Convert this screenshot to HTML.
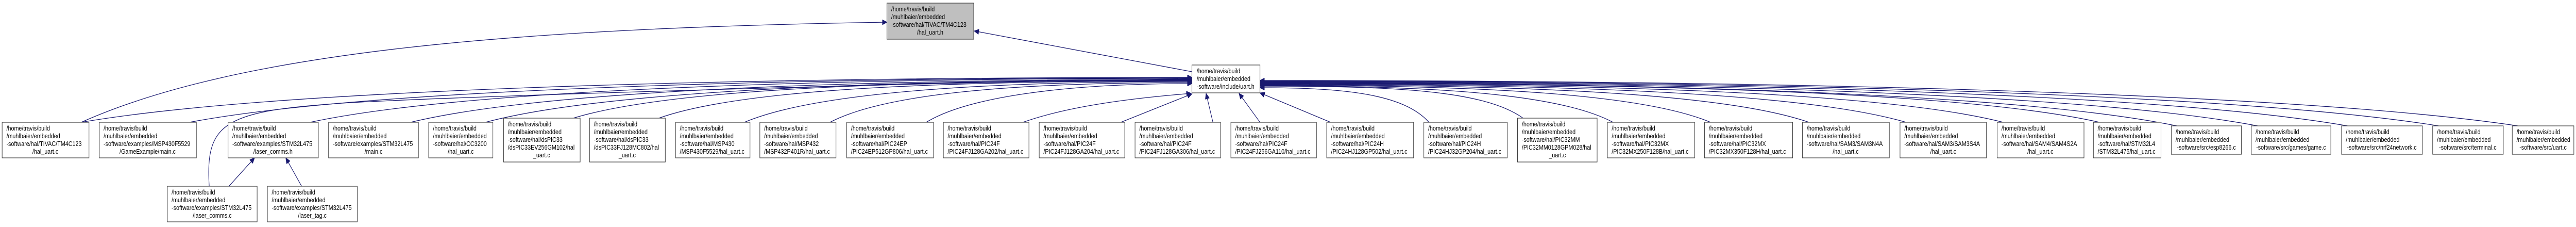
<!DOCTYPE html>
<html><head><meta charset="utf-8"><style>
html,body{margin:0;padding:0;background:#fff;width:100%;height:100%;overflow:hidden;}
svg{display:block;position:absolute;left:0;top:0;width:100vw;height:100vh;}
text{font-family:"Liberation Sans",Arial,sans-serif;font-size:13px;fill:#000;}
.b{fill:#fff;stroke:#3a3a3a;stroke-width:1.2;}
.e{fill:none;stroke:#191970;stroke-width:1.3;}
</style></head><body>
<svg viewBox="0 0 6021 440" preserveAspectRatio="none" overflow="hidden" xmlns="http://www.w3.org/2000/svg">
<defs>
<marker id="a" markerUnits="userSpaceOnUse" markerWidth="12" markerHeight="10" refX="11" refY="5" orient="auto">
<path d="M0,0 L11,5 L0,10 Z" fill="#191970" stroke="#191970"/>
</marker>
</defs>

<g>
<path class="e" marker-end="url(#a)" d="M190,237 C560,100 1200,55 2073,43"/>
<path class="e" marker-end="url(#a)" d="M2786,139 L2277,60"/>
<path class="e" marker-end="url(#a)" d="M190,237 C579,182 1488,150 2786,150"/>
<path class="e" marker-end="url(#a)" d="M443,237 C794,182 1614,151 2786,151"/>
<path class="e" marker-end="url(#a)" d="M725,237 C1034,182 1755,152 2786,152"/>
<path class="e" marker-end="url(#a)" d="M489,361 C480,240 520,215 800,200 S2400,155 2786,153"/>
<path class="e" marker-end="url(#a)" d="M960,237 C1234,182 1873,154 2786,154"/>
<path class="e" marker-end="url(#a)" d="M1135,237 C1383,182 1960,155 2786,155"/>
<path class="e" marker-end="url(#a)" d="M1340,229 C1557,174 2063,156 2786,156"/>
<path class="e" marker-end="url(#a)" d="M1540,229 C1727,174 2163,157 2786,157"/>
<path class="e" marker-end="url(#a)" d="M1740,237 C1897,182 2263,158 2786,158"/>
<path class="e" marker-end="url(#a)" d="M1940,237 C2067,182 2363,160 2786,160"/>
<path class="e" marker-end="url(#a)" d="M2165,237 C2258,190 2475,162 2786,162"/>
<path class="e" marker-end="url(#a)" d="M2391,237 C2500,205 2650,190 2784,181"/>
<path class="e" marker-end="url(#a)" d="M2620,237 L2786,182"/>
<path class="e" marker-end="url(#a)" d="M2835,237 L2819,181"/>
<path class="e" marker-end="url(#a)" d="M2945,237 L2896,181"/>
<path class="e" marker-end="url(#a)" d="M3110,237 L2945,180"/>
<path class="e" marker-end="url(#a)" d="M3340,237 C3281,182 3142,170 2945,170"/>
<path class="e" marker-end="url(#a)" d="M3560,229 C3468,174 3252,167 2945,167"/>
<path class="e" marker-end="url(#a)" d="M3770,237 C3646,182 3357,166 2945,166"/>
<path class="e" marker-end="url(#a)" d="M3998,237 C3840,182 3471,165 2945,165"/>
<path class="e" marker-end="url(#a)" d="M4228,237 C4036,182 3586,164 2945,164"/>
<path class="e" marker-end="url(#a)" d="M4455,237 C4228,182 3700,163 2945,163"/>
<path class="e" marker-end="url(#a)" d="M4682,237 C4421,182 3813,162 2945,162"/>
<path class="e" marker-end="url(#a)" d="M4907,237 C4613,182 3926,161 2945,161"/>
<path class="e" marker-end="url(#a)" d="M5088,244 C4767,189 4016,160 2945,160"/>
<path class="e" marker-end="url(#a)" d="M5277,244 C4927,189 4111,159 2945,159"/>
<path class="e" marker-end="url(#a)" d="M5487,244 C5106,189 4216,158 2945,158"/>
<path class="e" marker-end="url(#a)" d="M5700,244 C5287,189 4322,157 2945,157"/>
<path class="e" marker-end="url(#a)" d="M5885,244 C5444,189 4415,156 2945,156"/>
<path class="e" marker-end="url(#a)" d="M535,361 L595,306"/>
<path class="e" marker-end="url(#a)" d="M705,361 L668,306"/>
</g>

<rect x="2073" y="6" width="203" height="70" fill="#bfbfbf" stroke="#3a3a3a" stroke-width="1.2"/>
<text x="2083" y="22">/home/travis/build</text><text x="2083" y="37">/muhlbaier/embedded</text><text x="2083" y="52">-software/hal/TIVAC/TM4C123</text><text x="2174" y="67" text-anchor="middle">/hal_uart.h</text>

<rect class="b" x="2786" y="126" width="159" height="54"/>
<text x="2797" y="142">/home/travis/build</text><text x="2797" y="157">/muhlbaier/embedded</text><text x="2797" y="172">-software/include/uart.h</text>

<rect class="b" x="5" y="237" width="203" height="69"/>
<text x="15" y="253">/home/travis/build</text><text x="15" y="268">/muhlbaier/embedded</text><text x="15" y="283">-software/hal/TIVAC/TM4C123</text><text x="106" y="298" text-anchor="middle">/hal_uart.c</text>

<rect class="b" x="232" y="237" width="227" height="69"/>
<text x="242" y="253">/home/travis/build</text><text x="242" y="268">/muhlbaier/embedded</text><text x="242" y="283">-software/examples/MSP430F5529</text><text x="345" y="298" text-anchor="middle">/GameExample/main.c</text>

<rect class="b" x="533" y="237" width="211" height="69"/>
<text x="543" y="253">/home/travis/build</text><text x="543" y="268">/muhlbaier/embedded</text><text x="543" y="283">-software/examples/STM32L475</text><text x="638" y="298" text-anchor="middle">/laser_comms.h</text>

<rect class="b" x="768" y="237" width="210" height="69"/>
<text x="778" y="253">/home/travis/build</text><text x="778" y="268">/muhlbaier/embedded</text><text x="778" y="283">-software/examples/STM32L475</text><text x="873" y="298" text-anchor="middle">/main.c</text>

<rect class="b" x="1002" y="237" width="150" height="69"/>
<text x="1012" y="253">/home/travis/build</text><text x="1012" y="268">/muhlbaier/embedded</text><text x="1012" y="283">-software/hal/CC3200</text><text x="1077" y="298" text-anchor="middle">/hal_uart.c</text>

<rect class="b" x="1177" y="229" width="179" height="85"/>
<text x="1187" y="245">/home/travis/build</text><text x="1187" y="260">/muhlbaier/embedded</text><text x="1187" y="275">-software/hal/dsPIC33</text><text x="1187" y="290">/dsPIC33EV256GM102/hal</text><text x="1266" y="305" text-anchor="middle">_uart.c</text>

<rect class="b" x="1378" y="229" width="177" height="85"/>
<text x="1388" y="245">/home/travis/build</text><text x="1388" y="260">/muhlbaier/embedded</text><text x="1388" y="275">-software/hal/dsPIC33</text><text x="1388" y="290">/dsPIC33FJ128MC802/hal</text><text x="1466" y="305" text-anchor="middle">_uart.c</text>

<rect class="b" x="1579" y="237" width="174" height="69"/>
<text x="1589" y="253">/home/travis/build</text><text x="1589" y="268">/muhlbaier/embedded</text><text x="1589" y="283">-software/hal/MSP430</text><text x="1589" y="298">/MSP430F5529/hal_uart.c</text>

<rect class="b" x="1776" y="237" width="178" height="69"/>
<text x="1786" y="253">/home/travis/build</text><text x="1786" y="268">/muhlbaier/embedded</text><text x="1786" y="283">-software/hal/MSP432</text><text x="1786" y="298">/MSP432P401R/hal_uart.c</text>

<rect class="b" x="1979" y="237" width="203" height="69"/>
<text x="1989" y="253">/home/travis/build</text><text x="1989" y="268">/muhlbaier/embedded</text><text x="1989" y="283">-software/hal/PIC24EP</text><text x="1989" y="298">/PIC24EP512GP806/hal_uart.c</text>

<rect class="b" x="2205" y="237" width="200" height="69"/>
<text x="2215" y="253">/home/travis/build</text><text x="2215" y="268">/muhlbaier/embedded</text><text x="2215" y="283">-software/hal/PIC24F</text><text x="2215" y="298">/PIC24FJ128GA202/hal_uart.c</text>

<rect class="b" x="2429" y="237" width="200" height="69"/>
<text x="2439" y="253">/home/travis/build</text><text x="2439" y="268">/muhlbaier/embedded</text><text x="2439" y="283">-software/hal/PIC24F</text><text x="2439" y="298">/PIC24FJ128GA204/hal_uart.c</text>

<rect class="b" x="2653" y="237" width="200" height="69"/>
<text x="2663" y="253">/home/travis/build</text><text x="2663" y="268">/muhlbaier/embedded</text><text x="2663" y="283">-software/hal/PIC24F</text><text x="2663" y="298">/PIC24FJ128GA306/hal_uart.c</text>

<rect class="b" x="2877" y="237" width="200" height="69"/>
<text x="2887" y="253">/home/travis/build</text><text x="2887" y="268">/muhlbaier/embedded</text><text x="2887" y="283">-software/hal/PIC24F</text><text x="2887" y="298">/PIC24FJ256GA110/hal_uart.c</text>

<rect class="b" x="3101" y="237" width="203" height="69"/>
<text x="3111" y="253">/home/travis/build</text><text x="3111" y="268">/muhlbaier/embedded</text><text x="3111" y="283">-software/hal/PIC24H</text><text x="3111" y="298">/PIC24HJ128GP502/hal_uart.c</text>

<rect class="b" x="3328" y="237" width="195" height="69"/>
<text x="3338" y="253">/home/travis/build</text><text x="3338" y="268">/muhlbaier/embedded</text><text x="3338" y="283">-software/hal/PIC24H</text><text x="3338" y="298">/PIC24HJ32GP204/hal_uart.c</text>

<rect class="b" x="3547" y="229" width="186" height="85"/>
<text x="3557" y="245">/home/travis/build</text><text x="3557" y="260">/muhlbaier/embedded</text><text x="3557" y="275">-software/hal/PIC32MM</text><text x="3557" y="290">/PIC32MM0128GPM028/hal</text><text x="3640" y="305" text-anchor="middle">_uart.c</text>

<rect class="b" x="3757" y="237" width="204" height="69"/>
<text x="3767" y="253">/home/travis/build</text><text x="3767" y="268">/muhlbaier/embedded</text><text x="3767" y="283">-software/hal/PIC32MX</text><text x="3767" y="298">/PIC32MX250F128B/hal_uart.c</text>

<rect class="b" x="3984" y="237" width="206" height="69"/>
<text x="3994" y="253">/home/travis/build</text><text x="3994" y="268">/muhlbaier/embedded</text><text x="3994" y="283">-software/hal/PIC32MX</text><text x="3994" y="298">/PIC32MX350F128H/hal_uart.c</text>

<rect class="b" x="4213" y="237" width="203" height="69"/>
<text x="4223" y="253">/home/travis/build</text><text x="4223" y="268">/muhlbaier/embedded</text><text x="4223" y="283">-software/hal/SAM3/SAM3N4A</text><text x="4314" y="298" text-anchor="middle">/hal_uart.c</text>

<rect class="b" x="4441" y="237" width="202" height="69"/>
<text x="4451" y="253">/home/travis/build</text><text x="4451" y="268">/muhlbaier/embedded</text><text x="4451" y="283">-software/hal/SAM3/SAM3S4A</text><text x="4542" y="298" text-anchor="middle">/hal_uart.c</text>

<rect class="b" x="4668" y="237" width="203" height="69"/>
<text x="4678" y="253">/home/travis/build</text><text x="4678" y="268">/muhlbaier/embedded</text><text x="4678" y="283">-software/hal/SAM4/SAM4S2A</text><text x="4769" y="298" text-anchor="middle">/hal_uart.c</text>

<rect class="b" x="4893" y="237" width="158" height="69"/>
<text x="4903" y="253">/home/travis/build</text><text x="4903" y="268">/muhlbaier/embedded</text><text x="4903" y="283">-software/hal/STM32L4</text><text x="4903" y="298">/STM32L475/hal_uart.c</text>

<rect class="b" x="5075" y="244" width="164" height="55"/>
<text x="5085" y="260">/home/travis/build</text><text x="5085" y="275">/muhlbaier/embedded</text><text x="5157" y="290" text-anchor="middle">-software/src/esp8266.c</text>

<rect class="b" x="5262" y="244" width="186" height="55"/>
<text x="5272" y="260">/home/travis/build</text><text x="5272" y="275">/muhlbaier/embedded</text><text x="5355" y="290" text-anchor="middle">-software/src/games/game.c</text>

<rect class="b" x="5473" y="244" width="189" height="55"/>
<text x="5483" y="260">/home/travis/build</text><text x="5483" y="275">/muhlbaier/embedded</text><text x="5567" y="290" text-anchor="middle">-software/src/nrf24network.c</text>

<rect class="b" x="5686" y="244" width="165" height="55"/>
<text x="5696" y="260">/home/travis/build</text><text x="5696" y="275">/muhlbaier/embedded</text><text x="5768" y="290" text-anchor="middle">-software/src/terminal.c</text>

<rect class="b" x="5872" y="244" width="144" height="55"/>
<text x="5882" y="260">/home/travis/build</text><text x="5882" y="275">/muhlbaier/embedded</text><text x="5944" y="290" text-anchor="middle">-software/src/uart.c</text>

<rect class="b" x="391" y="361" width="210" height="69"/>
<text x="401" y="377">/home/travis/build</text><text x="401" y="392">/muhlbaier/embedded</text><text x="401" y="407">-software/examples/STM32L475</text><text x="496" y="422" text-anchor="middle">/laser_comms.c</text>

<rect class="b" x="625" y="361" width="210" height="69"/>
<text x="635" y="377">/home/travis/build</text><text x="635" y="392">/muhlbaier/embedded</text><text x="635" y="407">-software/examples/STM32L475</text><text x="730" y="422" text-anchor="middle">/laser_tag.c</text>
</svg>
</body></html>
